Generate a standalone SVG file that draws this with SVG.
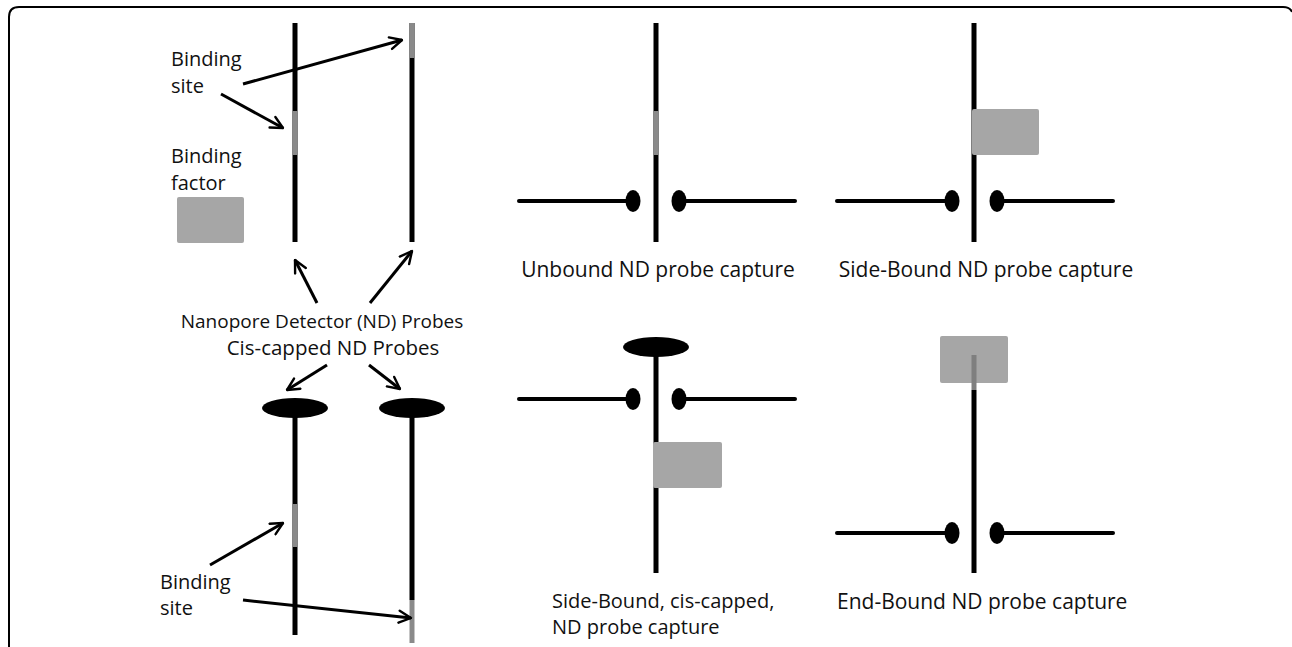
<svg xmlns="http://www.w3.org/2000/svg" width="1292" height="647" viewBox="0 0 1292 647">
<defs>
<style>
.t{font-family:"Open Sans","Liberation Sans",sans-serif;font-size:21px;fill:#111}
.t2{font-family:"Open Sans","Liberation Sans",sans-serif;font-size:20px;fill:#111}
.dna{stroke:#000;stroke-width:5;fill:none}
.site{stroke:#8a8a8a;stroke-width:5;fill:none}
.mem{stroke:#000;stroke-width:4;stroke-linecap:round;fill:none}
.box{fill:#a6a6a6}
.arr{stroke:#000;stroke-width:3;fill:none;marker-end:url(#ah)}
</style>
<marker id="ah" viewBox="0 0 10 10" refX="9" refY="5" markerWidth="5" markerHeight="5" orient="auto" markerUnits="strokeWidth">
<path d="M1 1 L9 5 L1 9" fill="none" stroke="#000" stroke-width="1.6" stroke-linecap="round" stroke-linejoin="round"/>
</marker>
</defs>
<rect width="1292" height="647" fill="#fff"/>
<path d="M9 647 V17 Q9 7 19 7 H1283 Q1290 7 1292 12" fill="none" stroke="#000" stroke-width="2"/>

<g id="probe-1">
<line class="dna" x1="295" y1="23" x2="295" y2="242"/>
<line class="site" x1="295" y1="111" x2="295" y2="155"/>
</g>
<g id="probe-2">
<line class="dna" x1="412" y1="23" x2="412" y2="242"/>
<line class="site" x1="412" y1="23" x2="412" y2="58"/>
</g>
<g id="label-binding-site-top">
<text class="t2" x="171" y="66">Binding</text>
<text class="t2" x="171" y="93">site</text>
</g>
<g id="label-binding-factor">
<text class="t2" x="171" y="163">Binding</text>
<text class="t2" x="171" y="190">factor</text>
<rect class="box" x="177" y="197" width="67" height="46" rx="2"/>
</g>
<g id="label-probes">
<text x="322" y="328" text-anchor="middle" style="font-family:'Open Sans','Liberation Sans',sans-serif;font-size:19px;fill:#111">Nanopore Detector (ND) Probes</text>
<text x="333" y="355" text-anchor="middle" style="font-family:'Open Sans','Liberation Sans',sans-serif;font-size:20.5px;fill:#111">Cis-capped ND Probes</text>
</g>
<g id="capped-probe-1">
<line class="dna" x1="295" y1="408" x2="295" y2="635"/>
<line class="site" x1="295" y1="504" x2="295" y2="547"/>
<ellipse cx="295" cy="408" rx="33" ry="10" fill="#000"/>
</g>
<g id="capped-probe-2">
<line class="dna" x1="412" y1="408" x2="412" y2="600"/>
<line class="site" x1="412" y1="600" x2="412" y2="643"/>
<ellipse cx="412" cy="408" rx="33" ry="10" fill="#000"/>
</g>
<g id="label-binding-site-bottom">
<text class="t2" x="160" y="589">Binding</text>
<text class="t2" x="160" y="615">site</text>
</g>

<g id="unbound">
<line class="dna" x1="656" y1="23" x2="656" y2="242"/>
<line class="site" x1="656" y1="111" x2="656" y2="155"/>
<line class="mem" x1="519" y1="201" x2="630" y2="201"/>
<line class="mem" x1="682" y1="201" x2="795" y2="201"/>
<ellipse cx="633" cy="201" rx="7.5" ry="11" fill="#000"/>
<ellipse cx="679" cy="201" rx="7.5" ry="11" fill="#000"/>
<text class="t" x="658" y="277" text-anchor="middle">Unbound ND probe capture</text>
</g>

<g id="side-bound">
<line class="dna" x1="974" y1="23" x2="974" y2="242"/>
<rect class="box" x="972" y="109" width="67" height="46" rx="2"/>
<line class="mem" x1="837" y1="201" x2="949" y2="201"/>
<line class="mem" x1="1000" y1="201" x2="1113" y2="201"/>
<ellipse cx="952" cy="201" rx="7.5" ry="11" fill="#000"/>
<ellipse cx="997" cy="201" rx="7.5" ry="11" fill="#000"/>
<text class="t" x="986" y="277" text-anchor="middle">Side-Bound ND probe capture</text>
</g>

<g id="side-bound-capped">
<line class="dna" x1="656" y1="347" x2="656" y2="573"/>
<ellipse cx="656" cy="347" rx="33" ry="10" fill="#000"/>
<line class="mem" x1="519" y1="399" x2="630" y2="399"/>
<line class="mem" x1="682" y1="399" x2="795" y2="399"/>
<ellipse cx="633" cy="399" rx="7.5" ry="11" fill="#000"/>
<ellipse cx="679" cy="399" rx="7.5" ry="11" fill="#000"/>
<rect class="box" x="653" y="442" width="69" height="46" rx="2"/>
<text class="t2" x="552" y="608">Side-Bound, cis-capped,</text>
<text class="t2" x="552" y="634">ND probe capture</text>
</g>

<g id="end-bound">
<rect class="box" x="940" y="336" width="68" height="47" rx="2"/>
<line class="dna" x1="974" y1="390" x2="974" y2="573"/>
<line class="site" x1="974" y1="355" x2="974" y2="390" style="stroke:#7f7f7f"/>
<line class="mem" x1="837" y1="533" x2="949" y2="533"/>
<line class="mem" x1="1000" y1="533" x2="1113" y2="533"/>
<ellipse cx="952" cy="533" rx="7.5" ry="11" fill="#000"/>
<ellipse cx="997" cy="533" rx="7.5" ry="11" fill="#000"/>
<text class="t" x="837" y="609">End-Bound ND probe capture</text>
</g>

<g id="connectors">
<line class="arr" x1="243" y1="84" x2="402" y2="40"/>
<line class="arr" x1="221" y1="94" x2="283" y2="128"/>
<line class="arr" x1="317" y1="303" x2="295" y2="260"/>
<line class="arr" x1="370" y1="303" x2="412" y2="251"/>
<line class="arr" x1="327" y1="365" x2="287" y2="390"/>
<line class="arr" x1="369" y1="365" x2="400" y2="389"/>
<line class="arr" x1="210" y1="565" x2="283" y2="523"/>
<line class="arr" x1="243" y1="600" x2="411" y2="618"/>
</g>
</svg>
